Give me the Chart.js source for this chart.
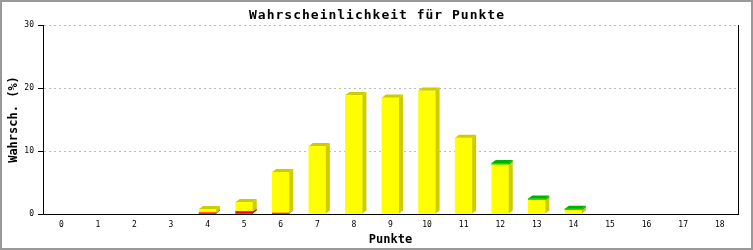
<!DOCTYPE html>
<html>
<head>
<meta charset="utf-8">
<script src="https://cdn.jsdelivr.net/npm/chart.js@4"></script>
<style>
  body { margin: 0; background: #fff; }
  canvas { display: block; }
</style>
</head>
<body>
<canvas id="chart" width="753" height="250"></canvas>
<script>
const punkte = ["0","1","2","3","4","5","6","7","8","9","10","11","12","13","14","15","16","17","18"];
const redValues    = [0, 0, 0, 0, 0.2, 0.4, 0.15, 0, 0, 0, 0, 0, 0, 0, 0, 0, 0, 0, 0];
const yellowValues = [0, 0, 0, 0, 0.6, 1.5, 6.5, 10.8, 18.9, 18.5, 19.6, 12.1, 7.8, 2.2, 0.6, 0, 0, 0, 0];
const greenValues  = [0, 0, 0, 0, 0, 0, 0, 0, 0, 0, 0, 0, 0.3, 0.25, 0.25, 0, 0, 0, 0];
const yTicks = [0, 10, 20, 30];

const FONT = "'DejaVu Sans Mono', 'Liberation Mono', monospace";
Chart.defaults.font.family = FONT;
Chart.defaults.color = "#000";

// front colours, and dark colours for the 3d side and top faces
const frontColors = ["#ff0000", "#ffff00", "#00dd00"];
const sideColors = ["#b80000", "#cccc00", "#00b000"];
const DX = 4, DY = 3;

// empty segments get no fill at all
function frontColor(d) {
  return c => (c.raw > 0 ? frontColors[d] : "rgba(0,0,0,0)");
}

const bars3d = {
  id: "bars3d",
  afterDatasetsDraw(chart) {
    const ctx = chart.ctx;
    const n = chart.data.labels.length;
    for (let i = 0; i < n; i++) {
      // find the topmost non-empty segment of this stack
      let topSet = -1;
      chart.data.datasets.forEach((ds, d) => { if (ds.data[i] > 0) topSet = d; });
      chart.data.datasets.forEach((ds, d) => {
        if (!(ds.data[i] > 0)) return;
        const el = chart.getDatasetMeta(d).data[i];
        const L = el.x - el.width / 2, R = el.x + el.width / 2;
        const T = el.y, B = el.base;
        ctx.save();
        ctx.fillStyle = sideColors[d];
        ctx.beginPath();
        ctx.moveTo(R, T);
        ctx.lineTo(R + DX, T - DY);
        ctx.lineTo(R + DX, B - DY);
        ctx.lineTo(R, B);
        ctx.closePath();
        ctx.fill();
        if (d === topSet) {
          ctx.beginPath();
          ctx.moveTo(L, T);
          ctx.lineTo(L + DX, T - DY);
          ctx.lineTo(R + DX, T - DY);
          ctx.lineTo(R, T);
          ctx.closePath();
          ctx.fill();
        }
        ctx.restore();
      });
    }
  },
  afterDraw(chart) {
    const ctx = chart.ctx;
    const a = chart.chartArea;
    ctx.save();
    // right edge of the plot
    ctx.strokeStyle = "#000";
    ctx.lineWidth = 1;
    ctx.beginPath();
    ctx.moveTo(a.right + 0.5, a.top);
    ctx.lineTo(a.right + 0.5, a.bottom);
    ctx.stroke();
    // title
    ctx.fillStyle = "#000";
    ctx.font = "bold 13px " + FONT;
    ctx.letterSpacing = "1px";
    ctx.textAlign = "center";
    ctx.textBaseline = "alphabetic";
    ctx.fillText("Wahrscheinlichkeit für Punkte", 377, 19);
    // frame round the image
    ctx.letterSpacing = "0px";
    ctx.strokeStyle = "#999";
    ctx.lineWidth = 2;
    ctx.strokeRect(1, 1, chart.width - 2, chart.height - 2);
    ctx.restore();
  }
};

new Chart("chart", {
  type: "bar",
  data: {
    labels: punkte,
    datasets: [
      { data: redValues, backgroundColor: frontColor(0) },
      { data: yellowValues, backgroundColor: frontColor(1) },
      { data: greenValues, backgroundColor: frontColor(2) }
    ]
  },
  options: {
    responsive: false,
    animation: false,
    devicePixelRatio: 1,
    barThickness: 17,
    layout: { padding: { top: 25, right: 15, left: 0, bottom: 0 } },
    plugins: {
      legend: { display: false },
      tooltip: { enabled: false },
      title: { display: false }
    },
    scales: {
      x: {
        stacked: true,
        offset: true,
        afterFit: s => { s.height = 36; },
        grid: { display: false, drawTicks: false },
        border: { color: "#000", width: 1 },
        ticks: { font: { size: 8 }, padding: 6, maxRotation: 0, autoSkip: false },
        title: {
          display: true, text: "Punkte",
          font: { size: 12, weight: "bold" },
          padding: { top: 0, bottom: 3 }
        }
      },
      y: {
        stacked: true,
        min: 0,
        max: 30,
        afterFit: s => { s.width = 43; },
        afterBuildTicks: s => { s.ticks = yTicks.map(v => ({ value: v })); },
        grid: {
          color: c => (c.tick && c.tick.value === 0) ? "rgba(0,0,0,0)" : "#bbbbbb",
          tickColor: "#000",
          tickLength: 5,
          tickBorderDash: []
        },
        border: { color: "#000", width: 1, dash: [2, 3] },
        ticks: { font: { size: 8 }, padding: 4 },
        title: {
          display: true, text: "Wahrsch. (%)",
          font: { size: 12, weight: "bold" },
          padding: { top: 7, bottom: 0 }
        }
      }
    }
  },
  plugins: [bars3d]
});
</script>
</body>
</html>
